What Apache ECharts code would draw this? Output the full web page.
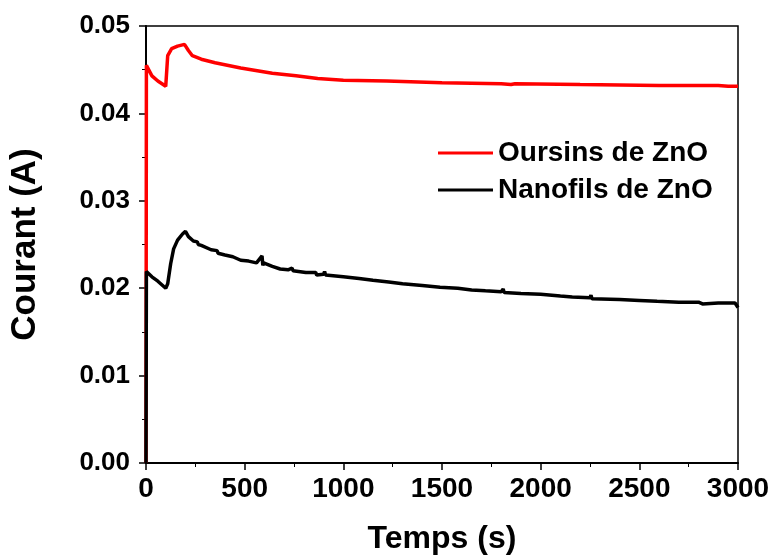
<!DOCTYPE html>
<html>
<head>
<meta charset="utf-8">
<script src="https://cdn.jsdelivr.net/npm/echarts@6/dist/echarts.min.js"></script>
<style>html,body{margin:0;padding:0;background:#fff;}#c{width:773px;height:560px;}</style>
</head>
<body>
<div id="c"></div>
<script>
const seriesNames = ['Oursins de ZnO', 'Nanofils de ZnO'];
const xTicks = [0, 500, 1000, 1500, 2000, 2500, 3000];
const yTicks = [0.00, 0.01, 0.02, 0.03, 0.04, 0.05];

const oursinsTime = [0, 2, 30, 60, 100, 105, 110, 130, 160, 195, 200, 215, 235, 280, 350, 480, 640, 760, 870, 1000, 1220, 1500, 1800, 1850, 1870, 2200, 2600, 2900, 2950, 3000];
const oursinsCurrent = [0.0, 0.0455, 0.0443, 0.0437, 0.0431, 0.0431, 0.0466, 0.0474, 0.0477, 0.0479, 0.0481, 0.0472, 0.0466, 0.0462, 0.0458, 0.0452, 0.0446, 0.0443, 0.0440, 0.0438, 0.0437, 0.0435, 0.0434, 0.0433, 0.0434, 0.0433, 0.0432, 0.0432, 0.0431, 0.0431];

const nanofilsTime = [0, 2, 30, 60, 100, 110, 125, 140, 160, 185, 200, 215, 240, 260, 265, 280, 330, 360, 365, 400, 440, 480, 520, 560, 588, 592, 596, 640, 680, 720, 740, 745, 810, 860, 865, 900, 905, 910, 1000, 1080, 1085, 1150, 1230, 1235, 1300, 1400, 1405, 1490, 1580, 1585, 1650, 1720, 1800, 1810, 1815, 1900, 2000, 2100, 2160, 2250, 2255, 2260, 2400, 2500, 2505, 2590, 2700, 2800, 2820, 2900, 2985, 3000];
const nanofilsCurrent = [0.0, 0.0219, 0.0213, 0.0208, 0.0200, 0.0205, 0.0228, 0.0245, 0.0255, 0.0262, 0.0265, 0.0259, 0.0254, 0.0253, 0.0250, 0.0249, 0.0244, 0.0243, 0.0240, 0.0238, 0.0236, 0.0232, 0.0231, 0.0229, 0.0237, 0.0226, 0.0229, 0.0225, 0.0222, 0.0221, 0.0223, 0.0220, 0.0218, 0.0218, 0.0215, 0.0216, 0.0219, 0.0215, 0.0213, 0.0211, 0.0213, 0.0209, 0.0207, 0.0209, 0.0205, 0.0203, 0.0201, 0.0201, 0.0200, 0.0198, 0.0198, 0.0197, 0.0196, 0.0199, 0.0195, 0.0194, 0.0193, 0.0191, 0.0190, 0.0189, 0.0192, 0.0188, 0.0187, 0.0186, 0.0184, 0.0185, 0.0184, 0.0184, 0.0182, 0.0183, 0.0183, 0.0178];

const zip = (a, b) => a.map((v, i) => [v, b[i]]);
const font = '"Liberation Sans", Arial, sans-serif';

const chart = echarts.init(document.getElementById('c'), null, {renderer: 'canvas'});
chart.setOption({
  animation: false,
  backgroundColor: '#fff',
  grid: {left: 146, right: 35, top: 26, bottom: 95, show: true, borderColor: '#000', borderWidth: 1.5, backgroundColor: 'transparent'},
  legend: {
    orient: 'vertical', left: 433, top: 132, itemGap: 5, itemWidth: 55, itemHeight: 3,
    icon: 'rect',
    data: seriesNames,
    textStyle: {fontFamily: font, fontSize: 28, fontWeight: 'bold', color: '#000', lineHeight: 32}
  },
  xAxis: {
    type: 'value', min: xTicks[0], max: xTicks[xTicks.length - 1], interval: 500,
    name: 'Temps (s)', nameLocation: 'middle', nameGap: 60,
    nameTextStyle: {fontFamily: font, fontSize: 32, fontWeight: 'bold', color: '#000'},
    axisLine: {show: true, lineStyle: {color: '#000', width: 2}},
    axisTick: {show: true, length: 7, lineStyle: {color: '#000', width: 1.5}},
    minorTick: {show: true, splitNumber: 2, length: 4, lineStyle: {color: '#000', width: 1}},
    splitLine: {show: false},
    axisLabel: {fontFamily: font, fontSize: 28, fontWeight: 'bold', color: '#000', margin: 12,
      formatter: v => xTicks.includes(v) ? String(v) : ''}
  },
  yAxis: {
    type: 'value', min: yTicks[0], max: yTicks[yTicks.length - 1], interval: 0.01,
    name: 'Courant (A)', nameLocation: 'middle', nameGap: 103,
    nameTextStyle: {fontFamily: font, fontSize: 35, fontWeight: 'bold', color: '#000'},
    axisLine: {show: true, lineStyle: {color: '#000', width: 2}},
    axisTick: {show: true, length: 7, lineStyle: {color: '#000', width: 1.5}},
    minorTick: {show: true, splitNumber: 2, length: 4, lineStyle: {color: '#000', width: 1}},
    splitLine: {show: false},
    axisLabel: {fontFamily: font, fontSize: 26, fontWeight: 'bold', color: '#000', margin: 16,
      formatter: v => v.toFixed(2)}
  },
  series: [
    {name: seriesNames[0], type: 'line', data: zip(oursinsTime, oursinsCurrent), showSymbol: false, symbol: 'none',
      lineStyle: {color: '#ff0000', width: 3.5}, itemStyle: {color: '#ff0000'}, z: 2},
    {name: seriesNames[1], type: 'line', data: zip(nanofilsTime, nanofilsCurrent), showSymbol: false, symbol: 'none',
      lineStyle: {color: '#000', width: 3.5}, itemStyle: {color: '#000'}, z: 3}
  ]
});
</script>
</body>
</html>
